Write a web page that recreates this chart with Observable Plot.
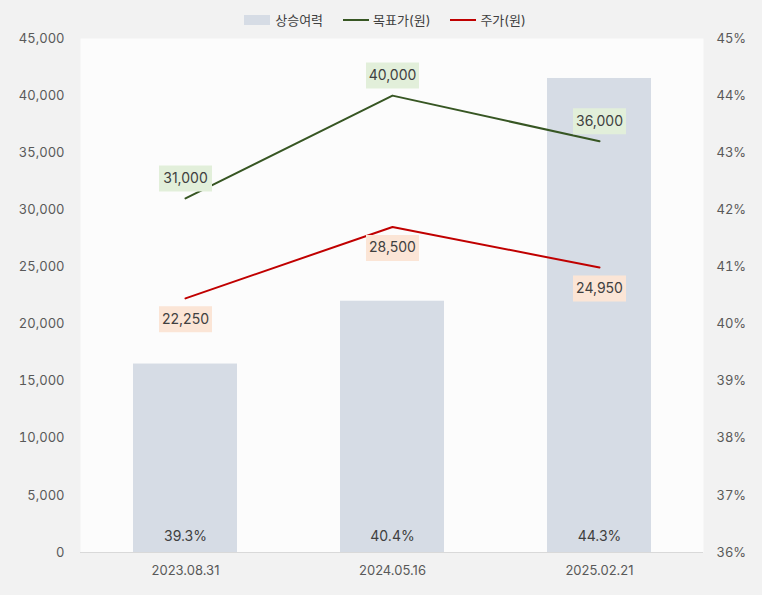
<!DOCTYPE html>
<html><head><meta charset="utf-8">
<script src="https://cdn.jsdelivr.net/npm/d3@7"></script>
<script src="https://cdn.jsdelivr.net/npm/@observablehq/plot@0.6"></script>
<style>
body{margin:0;background:#f2f2f2;font-family:Inter,"Noto Sans CJK KR",sans-serif;width:762px;height:595px;overflow:hidden}
#legend{height:28px;padding-top:12px;box-sizing:border-box;display:flex;justify-content:center;align-items:center;font-size:13px;line-height:16px;color:#404040;padding-left:8px}
.item{display:flex;align-items:center;margin:0 10px;height:16px}
.sw{width:26px;height:10px;background:#d6dce5;margin-right:5px}
.ln{width:26px;height:2px;margin-right:4px}
#chart svg{display:block}
</style></head><body>
<div id="legend">
<span class="item"><span class="sw"></span>상승여력</span>
<span class="item"><span class="ln" style="background:#375623"></span>목표가(원)</span>
<span class="item"><span class="ln" style="background:#c00000"></span>주가(원)</span>
</div>
<div id="chart"></div>
<script>
const dates = ["2023.08.31", "2024.05.16", "2025.02.21"];
const upside = [39.3, 40.4, 44.3];
const target = [31000, 40000, 36000];
const price = [22250, 28500, 24950];
const leftTicks = [0, 5000, 10000, 15000, 20000, 25000, 30000, 35000, 40000, 45000];
const rightTicks = [36, 37, 38, 39, 40, 41, 42, 43, 44, 45];

const rows = dates.map((d, i) => ({date: d, upside: upside[i], target: target[i], price: price[i]}));
const pctToY = p => (p - 36) * 5000;
const fmt = d3.format(",");
const boxSymbol = {draw(ctx) {
  ctx.moveTo(-26.5, -13); ctx.lineTo(26.5, -13); ctx.lineTo(26.5, 13); ctx.lineTo(-26.5, 13); ctx.closePath();
}};

const chart = Plot.plot({
  width: 762, height: 567,
  marginTop: 10, marginBottom: 43, marginLeft: 80, marginRight: 59,
  style: {background: "transparent", fontFamily: "Inter, 'Noto Sans CJK KR', sans-serif", fontSize: "13px", color: "#595959"},
  x: {domain: dates, type: "band", paddingInner: 0.5, paddingOuter: 0.25},
  y: {domain: [0, 45000]},
  marks: [
    Plot.frame({fill: "#fcfcfc", stroke: null}),
    Plot.barY(rows, {x: "date", y1: 0, y2: d => pctToY(d.upside), fill: "#d6dce5"}),
    Plot.ruleY([0], {stroke: "#d9d9d9", strokeWidth: 1}),
    Plot.text(rows, {x: "date", y: 0, dy: -16, text: d => d.upside.toFixed(1) + "%", fontSize: 14, fill: "#404040"}),
    Plot.line(rows, {x: "date", y: "target", stroke: "#375623", strokeWidth: 2}),
    Plot.line(rows, {x: "date", y: "price", stroke: "#c00000", strokeWidth: 2}),
    Plot.dot(rows, {x: "date", y: "target", dy: -20, symbol: boxSymbol, fill: "#e2efda", r: 5}),
    Plot.dot(rows, {x: "date", y: "price", dy: 21, symbol: boxSymbol, fill: "#fbe5d6", r: 5}),
    Plot.text(rows, {x: "date", y: "target", dy: -20, text: d => fmt(d.target), fontSize: 14, fill: "#404040"}),
    Plot.text(rows, {x: "date", y: "price", dy: 21, text: d => fmt(d.price), fontSize: 14, fill: "#404040"}),
    Plot.axisX({tickSize: 0, tickPadding: 13, label: null, fill: "#595959"}),
    Plot.axisY(leftTicks, {anchor: "left", tickSize: 0, tickPadding: 16, tickFormat: fmt, label: null, fill: "#595959"}),
    Plot.axisY(rightTicks.map(pctToY), {anchor: "right", tickSize: 0, tickPadding: 13, tickFormat: d => (36 + d / 5000) + "%", label: null, fill: "#595959"})
  ]
});
document.getElementById("chart").appendChild(chart);
</script>
</body></html>
